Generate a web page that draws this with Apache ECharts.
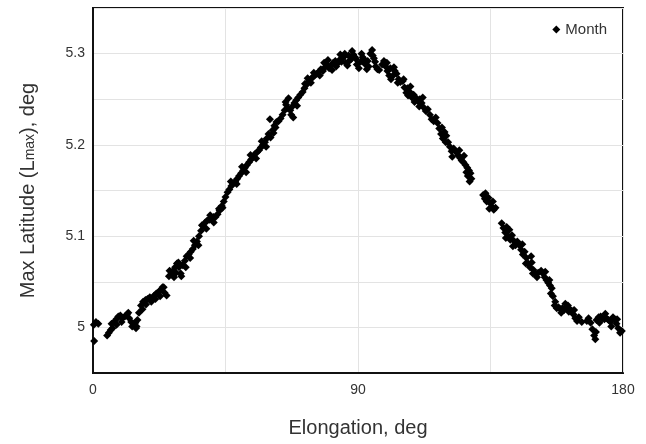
<!DOCTYPE html>
<html>
<head>
<meta charset="utf-8">
<script src="https://cdn.jsdelivr.net/npm/echarts@6/dist/echarts.min.js"></script>
<style>
  html, body { margin: 0; padding: 0; background: #fff; }
  #chart { width: 646px; height: 444px; }
</style>
</head>
<body>
<div id="chart"></div>
<script>
// elongation (deg)
const elongation = [
  0.3, 0.4, 1.0, 1.8, 4.8, 5.4, 6.0, 6.6, 7.2, 7.9, 8.6, 9.3, 10.0, 10.8, 11.5, 12.3,
  13.0, 13.7, 14.4, 15.1, 14.0, 14.8, 15.6, 16.3, 17.0, 17.8, 18.5, 19.3, 20.0, 20.8,
  21.5, 22.3, 23.0, 23.6, 24.3, 25.0, 25.8, 26.5, 27.2, 27.9, 28.5, 29.2, 29.8, 30.5,
  31.2, 31.8, 32.5, 33.2, 33.9, 34.6, 35.3, 36.0, 36.7, 37.4, 38.1, 38.8, 39.5, 40.2,
  40.9, 41.6, 42.3, 43.0, 43.7, 44.4, 45.0, 45.7, 46.3, 47.0, 47.6, 48.3, 49.0, 49.6,
  50.3, 51.0, 51.6, 52.3, 53.0, 53.7, 54.4, 55.0, 55.7, 56.4, 57.0, 57.7, 58.4, 59.0,
  59.6, 60.3, 61.0, 61.6, 62.3, 63.0, 63.7, 64.4, 65.1, 65.6, 66.3, 67.0, 67.7, 68.4,
  69.0, 69.7, 70.4, 71.2, 71.8, 72.5, 73.2, 73.9, 74.6, 75.3, 76.0, 76.7, 77.4, 78.1,
  78.8, 79.5, 80.2, 80.9, 81.6, 82.3, 83.0, 83.7, 84.4, 85.1, 85.8, 86.4, 87.0, 87.7,
  88.4, 89.0, 89.6, 90.3, 90.9, 91.6, 92.3, 93.0, 93.6, 94.2, 94.8, 95.4, 96.0, 96.6,
  98.2, 98.8, 99.4, 100.0, 100.6, 101.2, 101.9, 102.5, 103.1, 103.8, 104.4, 105.2, 105.8,
  106.4, 107.0, 107.6, 108.3, 108.9, 109.6, 110.3, 111.0, 111.6, 112.3, 113.0, 113.7,
  114.4, 115.0, 115.7, 116.4, 117.0, 117.6, 118.2, 118.8, 119.4, 120.0, 120.6, 121.2,
  121.8, 122.5, 123.4, 124.0, 124.6, 125.2, 125.8, 126.5, 127.1, 127.7, 127.3, 127.9,
  128.5, 132.5, 133.1, 133.7, 134.3, 134.9, 135.5, 136.1, 136.7, 138.8, 139.4, 140.0,
  140.5, 141.1, 141.7, 142.3, 142.9, 143.5, 144.1, 144.8, 145.4, 146.0, 146.6, 147.2,
  147.8, 148.4, 149.0, 149.6, 150.2, 150.8, 152.2, 152.8, 153.4, 154.0, 154.6, 155.2,
  155.8, 155.5, 156.2, 156.8, 157.5, 158.1, 158.8, 159.4, 160.0, 160.7, 161.3, 162.0,
  162.6, 163.2, 163.8, 164.4, 165.0, 166.0, 167.7, 168.3, 169.0, 169.6, 170.2, 170.6,
  171.0, 171.7, 172.4, 173.0, 173.7, 174.4, 175.1, 175.8, 176.6, 177.2, 177.8, 178.4,
  179.0, 179.6,
  // second row of the band
  6.3, 8.0, 9.7, 12.0, 13.3, 14.6, 16.8, 18.0, 19.8, 21.2, 22.8, 24.0, 26.0, 27.5,
  28.2, 29.0, 30.0, 31.5, 33.0, 34.2, 35.8, 37.0, 38.5, 39.8, 41.0, 42.8, 44.0, 46.8,
  48.8, 50.6, 52.0, 53.5, 55.4, 57.3, 58.8, 60.1, 61.3, 62.0, 65.4, 66.4, 67.3, 68.0,
  69.3, 72.0, 72.9, 74.0, 75.0, 77.0, 78.5, 79.8, 81.2, 82.6, 84.0, 85.5, 86.8, 88.0,
  89.3, 91.2, 92.0, 93.3, 95.0, 95.8, 97.2, 99.8, 101.0, 102.2, 103.5, 105.5, 106.8,
  107.8, 109.2, 110.8, 112.0, 118.5, 119.8, 122.0, 124.4, 126.0, 126.8, 128.2, 133.3,
  134.6, 135.8, 140.2, 141.4, 142.6, 145.8, 147.0, 148.8, 149.4, 151.2, 153.6, 155.0,
  157.0, 159.0, 160.4, 161.6, 163.4, 170.8, 172.0, 174.0, 176.0, 178.0
];

// max latitude (deg), same order
const maxLatitude = [
  5.003, 4.985, 5.006, 5.004, 4.991, 4.994, 4.997, 4.999, 5.006, 5.009, 5.012, 5.013,
  5.010, 5.012, 5.014, 5.010, 5.006, 5.004, 5.005, 5.008, 5.002, 5.001, 5.016, 5.024,
  5.028, 5.030, 5.031, 5.033, 5.032, 5.035, 5.037, 5.039, 5.041, 5.044, 5.038, 5.035,
  5.056, 5.058, 5.062, 5.066, 5.070, 5.066, 5.059, 5.068, 5.073, 5.078, 5.080, 5.083,
  5.086, 5.090, 5.094, 5.100, 5.106, 5.111, 5.115, 5.117, 5.118, 5.119, 5.121, 5.121,
  5.124, 5.128, 5.133, 5.138, 5.143, 5.148, 5.151, 5.155, 5.158, 5.160, 5.163, 5.166,
  5.169, 5.172, 5.175, 5.178, 5.181, 5.184, 5.187, 5.190, 5.192, 5.194, 5.197, 5.200,
  5.203, 5.207, 5.212, 5.208, 5.216, 5.221, 5.225, 5.226, 5.229, 5.233, 5.238, 5.244,
  5.240, 5.238, 5.242, 5.246, 5.249, 5.252, 5.255, 5.258, 5.262, 5.266, 5.269, 5.272,
  5.274, 5.276, 5.278, 5.280, 5.283, 5.281, 5.285, 5.288, 5.284, 5.287, 5.290, 5.292,
  5.289, 5.293, 5.291, 5.296, 5.290, 5.287, 5.292, 5.294, 5.299, 5.296, 5.288, 5.284,
  5.291, 5.296, 5.289, 5.283, 5.286, 5.300, 5.304, 5.295, 5.286, 5.283, 5.288, 5.292,
  5.286, 5.281, 5.276, 5.272, 5.276, 5.281, 5.278, 5.272, 5.269, 5.270, 5.263, 5.257,
  5.254, 5.258, 5.252, 5.255, 5.252, 5.248, 5.250, 5.246, 5.241, 5.237, 5.239, 5.233,
  5.228, 5.226, 5.230, 5.224, 5.218, 5.212, 5.207, 5.214, 5.210, 5.203, 5.198, 5.193,
  5.196, 5.192, 5.189, 5.186, 5.183, 5.181, 5.178, 5.175, 5.172, 5.166, 5.160, 5.163,
  5.145, 5.141, 5.138, 5.142, 5.136, 5.132, 5.129, 5.131, 5.114, 5.109, 5.104, 5.110,
  5.100, 5.096, 5.101, 5.095, 5.090, 5.094, 5.090, 5.085, 5.080, 5.083, 5.076, 5.070,
  5.066, 5.071, 5.063, 5.058, 5.055, 5.062, 5.059, 5.055, 5.052, 5.049, 5.046, 5.043,
  5.037, 5.034, 5.024, 5.021, 5.022, 5.020, 5.021, 5.019, 5.022, 5.024, 5.020, 5.018,
  5.014, 5.010, 5.007, 5.011, 5.006, 5.007, 5.010, 5.005, 4.998, 4.991, 4.987, 5.008,
  5.011, 5.012, 5.010, 5.009, 5.010, 5.008, 5.006, 5.011, 5.009, 5.004, 4.999, 4.994,
  4.996,
  // second row of the band
  5.004, 5.003, 5.006, 5.016, 5.001, 4.999, 5.020, 5.025, 5.028, 5.031, 5.034, 5.044,
  5.062, 5.055, 5.060, 5.071, 5.056, 5.066, 5.076, 5.095, 5.090, 5.112, 5.108, 5.123,
  5.115, 5.130, 5.131, 5.160, 5.157, 5.176, 5.170, 5.189, 5.185, 5.204, 5.198, 5.228,
  5.213, 5.219, 5.247, 5.251, 5.233, 5.230, 5.243, 5.267, 5.273, 5.268, 5.279, 5.276,
  5.290, 5.293, 5.282, 5.286, 5.299, 5.300, 5.298, 5.303, 5.294, 5.300, 5.294, 5.292,
  5.298, 5.291, 5.282, 5.290, 5.284, 5.285, 5.268, 5.272, 5.262, 5.264, 5.247, 5.242,
  5.252, 5.219, 5.203, 5.187, 5.194, 5.188, 5.170, 5.169, 5.147, 5.130, 5.138, 5.098,
  5.107, 5.089, 5.091, 5.070, 5.078, 5.059, 5.060, 5.061, 5.052, 5.028, 5.016, 5.026,
  5.017, 5.019, 4.995, 5.005, 5.015, 5.001, 5.009
];

const chart = echarts.init(document.getElementById('chart'))
const font = 'Liberation Sans, Arial, sans-serif'

const points = elongation.map((x, i) => [x, maxLatitude[i]])

const option = {
  backgroundColor: '#fff',
  animation: false,
  textStyle: { fontFamily: font },
  grid: {
    left: 93,
    right: 23,
    top: 8,
    bottom: 71,
    show: true,
    borderColor: '#111',
    borderWidth: 2
  },
  legend: {
    data: ['Month'],
    right: 34,
    top: 17,
    itemWidth: 8,
    itemHeight: 8,
    itemGap: 6,
    textStyle: { color: '#333', fontSize: 15, fontFamily: font }
  },
  xAxis: {
    type: 'value',
    min: 0,
    max: 180,
    interval: 45,
    name: 'Elongation, deg',
    nameLocation: 'middle',
    nameGap: 45,
    nameTextStyle: { color: '#333', fontSize: 20, fontFamily: font },
    axisLine: { lineStyle: { color: '#111', width: 2 } },
    axisTick: { show: false },
    axisLabel: {
      color: '#333',
      fontSize: 14,
      margin: 10,
      formatter: v => (v % 90 === 0 ? String(v) : '')
    },
    splitLine: { lineStyle: { color: '#e3e3e3', width: 1 } }
  },
  yAxis: {
    type: 'value',
    min: 4.95,
    max: 5.35,
    interval: 0.05,
    name: '{a|Max Latitude (L}{b|max}{a|), deg}',
    nameLocation: 'middle',
    nameGap: 55,
    nameTextStyle: {
      rich: {
        a: { color: '#333', fontSize: 20, fontFamily: font },
        b: { color: '#333', fontSize: 14, fontFamily: font, padding: [4, 0, 0, 0] }
      }
    },
    axisLine: { show: true, lineStyle: { color: '#111', width: 2 } },
    axisTick: { show: false },
    axisLabel: {
      color: '#333',
      fontSize: 14,
      margin: 8,
      formatter: v => {
        const t = v * 10
        return Math.abs(t - Math.round(t)) < 1e-6 ? String(+v.toFixed(1)) : ''
      }
    },
    splitLine: { lineStyle: { color: '#e3e3e3', width: 1 } }
  },
  series: [
    {
      name: 'Month',
      type: 'scatter',
      symbol: 'diamond',
      symbolSize: 8,
      itemStyle: { color: '#000', opacity: 1 },
      data: points
    }
  ]
}

chart.setOption(option)
</script>
</body>
</html>
